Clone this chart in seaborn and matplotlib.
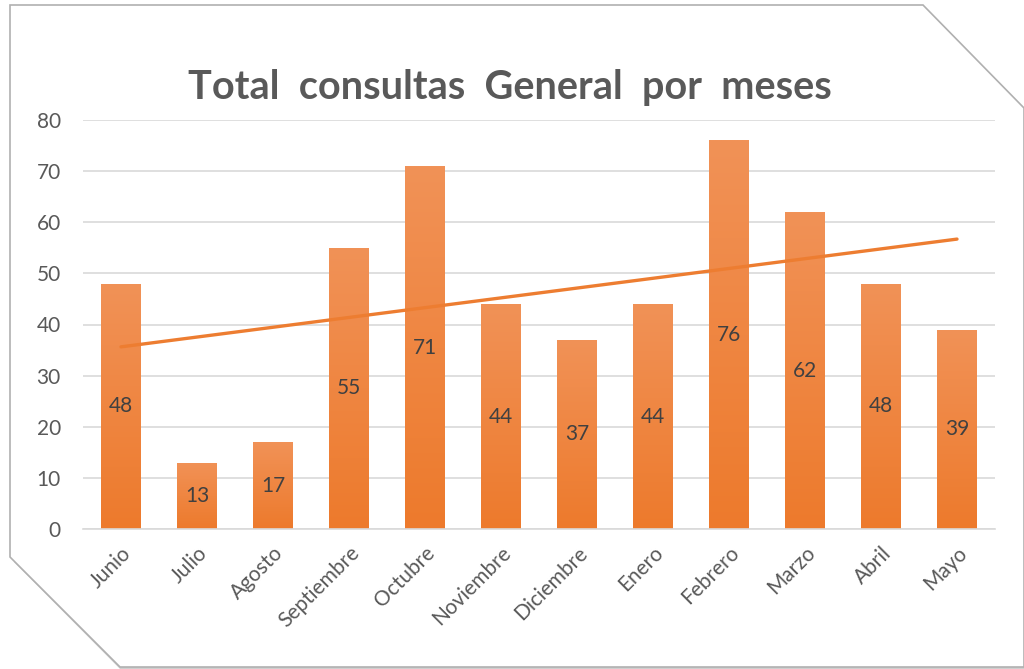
import numpy as np
import pandas as pd
import matplotlib
matplotlib.use("Agg")
import matplotlib.pyplot as plt
import seaborn as sns
from matplotlib.patches import Polygon
from matplotlib.colors import LinearSegmentedColormap

meses = ["Junio", "Julio", "Agosto", "Septiembre", "Octubre", "Noviembre",
         "Diciembre", "Enero", "Febrero", "Marzo", "Abril", "Mayo"]
consultas = [48, 13, 17, 55, 71, 44, 37, 44, 76, 62, 48, 39]
y_ticks = [0, 10, 20, 30, 40, 50, 60, 70, 80]
titulo = "Total  consultas  General  por  meses"

sns.set_theme(style="white")
plt.rcParams['font.family'] = ['Lato', 'DejaVu Sans']

df = pd.DataFrame({"mes": meses, "consultas": consultas})

fig = plt.figure(figsize=(10.24, 6.69), dpi=100)
W, H = 1024, 669

# beveled frame with shadow
def fp(pts):
    return [(x / W, 1 - y / H) for x, y in pts]
shadow = Polygon(fp([(14, 8), (926, 8), (1027, 111), (1027, 672), (123, 672), (14, 562)]),
                 closed=True, transform=fig.transFigure, facecolor="#cfcfcf",
                 edgecolor="none", zorder=-3)
frame = Polygon(fp([(10, 5), (923, 5), (1024, 108), (1024, 667), (120, 667), (10, 557)]),
                closed=True, transform=fig.transFigure, facecolor="white",
                edgecolor="#b0b0b0", linewidth=1.2, zorder=-2)
fig.patches.extend([shadow, frame])

ax = fig.add_axes([83 / W, 1 - 529 / H, (995 - 83) / W, (529 - 120) / H])
ax.set_facecolor("none")
ax.set_zorder(1)

sns.barplot(data=df, x="mes", y="consultas", color="#ED7D31", width=0.52,
            saturation=1, ax=ax, zorder=2)

# gradient fill of bars
cmap = LinearSegmentedColormap.from_list("g", ["#ED7A2C", "#F19257"])
grad = np.linspace(0, 1, 256).reshape(-1, 1)
for p in ax.patches:
    x0, y0 = p.get_x(), p.get_y()
    w, h = p.get_width(), p.get_height()
    im = ax.imshow(grad, cmap=cmap, origin="lower", aspect="auto",
                   extent=[x0, x0 + w, y0, y0 + h], zorder=2.5)
    im.set_clip_path(p)
    p.set_edgecolor("none")

# data labels centred in bars
for i, v in enumerate(consultas):
    ax.text(i, v / 2, str(v), ha="center", va="center", fontsize=15,
            color="#404040", zorder=4)

# linear trend line
sns.regplot(x=np.arange(len(consultas)), y=np.array(consultas), ci=None,
            scatter=False, truncate=True, ax=ax,
            line_kws=dict(color="#ED7D31", linewidth=2.4, zorder=3))

ax.set_xlim(-0.5, 11.5)
ax.set_ylim(0, 80)
ax.set_yticks(y_ticks)
ax.set_xticks(range(len(meses)))
ax.set_xticklabels(meses, rotation=45, ha="right", rotation_mode="anchor")
ax.tick_params(axis="both", length=0, labelsize=15, labelcolor="#595959")
ax.tick_params(axis="y", pad=16)
ax.tick_params(axis="x", pad=10)
ax.set_xlabel("")
ax.set_ylabel("")
ax.grid(axis="y", color="#d9d9d9", linewidth=1.2, zorder=0)
ax.set_axisbelow(True)
for s in ["top", "right", "left"]:
    ax.spines[s].set_visible(False)
ax.spines["bottom"].set_color("#d9d9d9")
ax.spines["bottom"].set_linewidth(1.2)

fig.text(510 / W, 1 - 88 / H, titulo, ha="center", va="center", fontsize=28.5,
         fontweight="bold", color="#595959")

fig.savefig("out.png", dpi=100)
